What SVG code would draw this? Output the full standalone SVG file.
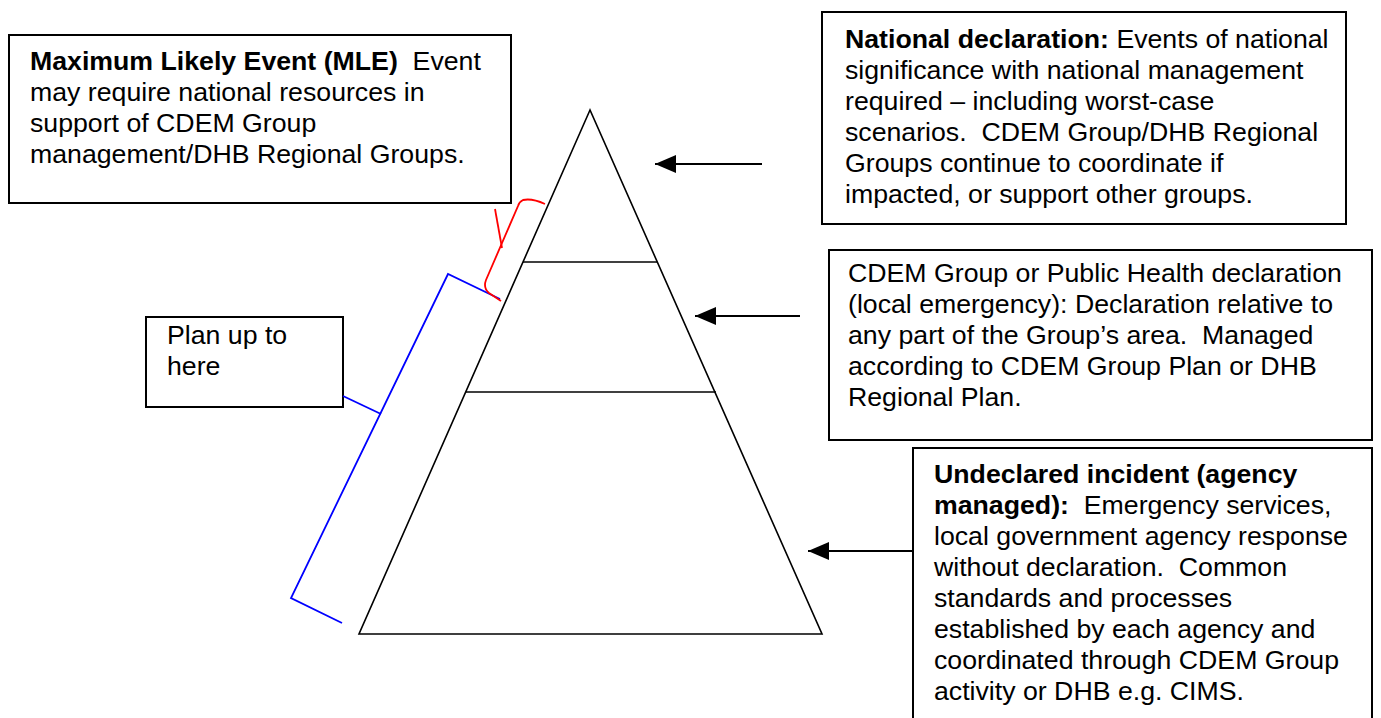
<svg xmlns="http://www.w3.org/2000/svg" width="1381" height="718" viewBox="0 0 1381 718">
<defs>
<style>
.box{fill:#fff;stroke:#000;stroke-width:2}
.t{font-family:"Liberation Sans",Arial,sans-serif;font-size:26.7px;fill:#000;white-space:pre}
.b{font-weight:bold}
.tri{fill:none;stroke:#000;stroke-width:1.6}
.conn{fill:none;stroke:#000;stroke-width:2}
.blue{fill:none;stroke:#0000ff;stroke-width:1.8}
.red{fill:none;stroke:#ff0000;stroke-width:1.8}
</style>
<marker id="ah" viewBox="0 0 21 18" refX="21" refY="9" markerWidth="21" markerHeight="18" markerUnits="userSpaceOnUse" orient="auto">
<path d="M0,0 L21,9 L0,18 Z" fill="#000"/>
</marker>
</defs>
<rect width="1381" height="718" fill="#fff"/>

<g id="pyramid">
<path class="tri" d="M590,110 L359,634 L822,634 Z"/>
<line class="tri" x1="523" y1="262" x2="657" y2="262"/>
<line class="tri" x1="466" y1="392" x2="716" y2="392"/>
</g>

<g id="mle">
<rect class="box" x="9" y="35" width="502" height="168"/>
<text class="t" x="30" y="70" xml:space="preserve"><tspan class="b">Maximum Likely Event (MLE)</tspan>  Event</text>
<text class="t" x="30" y="101">may require national resources in</text>
<text class="t" x="30" y="132">support of CDEM Group</text>
<text class="t" x="30" y="163">management/DHB Regional Groups.</text>
</g>

<g id="national">
<rect class="box" x="822" y="12" width="524" height="212"/>
<text class="t" x="845" y="48" xml:space="preserve"><tspan class="b">National declaration:</tspan> Events of national</text>
<text class="t" x="845" y="79">significance with national management</text>
<text class="t" x="845" y="110">required – including worst-case</text>
<text class="t" x="845" y="141" xml:space="preserve">scenarios.  CDEM Group/DHB Regional</text>
<text class="t" x="845" y="172">Groups continue to coordinate if</text>
<text class="t" x="845" y="203">impacted, or support other groups.</text>
</g>

<g id="cdem">
<rect class="box" x="829" y="250" width="543" height="190"/>
<text class="t" x="848" y="282">CDEM Group or Public Health declaration</text>
<text class="t" x="848" y="313">(local emergency): Declaration relative to</text>
<text class="t" x="848" y="344" xml:space="preserve">any part of the Group’s area.  Managed</text>
<text class="t" x="848" y="375">according to CDEM Group Plan or DHB</text>
<text class="t" x="848" y="406">Regional Plan.</text>
</g>

<g id="undeclared">
<rect class="box" x="913" y="448" width="459" height="290"/>
<text class="t" x="934" y="483"><tspan class="b">Undeclared incident (agency</tspan></text>
<text class="t" x="934" y="514" xml:space="preserve"><tspan class="b">managed):</tspan>  Emergency services,</text>
<text class="t" x="934" y="545">local government agency response</text>
<text class="t" x="934" y="576" xml:space="preserve">without declaration.  Common</text>
<text class="t" x="934" y="607">standards and processes</text>
<text class="t" x="934" y="638">established by each agency and</text>
<text class="t" x="934" y="669">coordinated through CDEM Group</text>
<text class="t" x="934" y="700">activity or DHB e.g. CIMS.</text>
</g>

<g id="plan">
<rect class="box" x="146" y="317" width="197" height="90"/>
<text class="t" x="167" y="344">Plan up to</text>
<text class="t" x="167" y="375">here</text>
</g>

<g id="connectors">
<line class="conn" x1="762" y1="164" x2="655" y2="164" marker-end="url(#ah)"/>
<line class="conn" x1="800" y1="316" x2="695" y2="316" marker-end="url(#ah)"/>
<line class="conn" x1="913" y1="551" x2="808" y2="551" marker-end="url(#ah)"/>
<path class="blue" d="M500,299 L448,274 L291,598 L342,623"/>
<line class="blue" x1="343" y1="396" x2="381" y2="414"/>
<path class="red" d="M545,204 Q532,198 523,200 Q519,202 518,206 L486,280 Q483,288 489,293 L501,301"/>
<line class="red" x1="495" y1="209" x2="502" y2="248"/>
</g>
</svg>
